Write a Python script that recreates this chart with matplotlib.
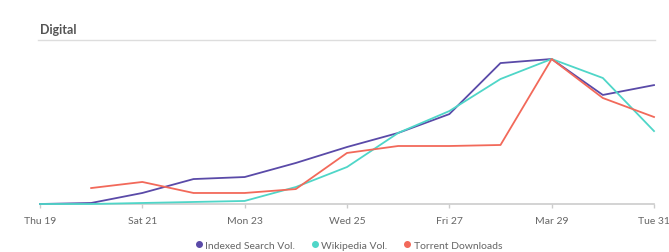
import matplotlib.pyplot as plt
import numpy as np

plt.rcParams['font.family'] = ['Lato', 'DejaVu Sans']

# Data (index, peak = 100)
days = ['Thu 19', 'Fri 20', 'Sat 21', 'Sun 22', 'Mon 23', 'Tue 24', 'Wed 25',
        'Thu 26', 'Fri 27', 'Sat 28', 'Mar 29', 'Mon 30', 'Tue 31']
tick_labels = ['Thu 19', 'Sat 21', 'Mon 23', 'Wed 25', 'Fri 27', 'Mar 29', 'Tue 31']
indexed = [0, 0.7, 7.6, 17.2, 18.6, 28.3, 39.3, 49, 62, 97.2, 100, 75.2, 82]
wikipedia = [0, 0, 0.7, 1.4, 2.1, 11.7, 25.5, 49, 64.1, 86.2, 100, 86.9, 50.3]
torrent = [np.nan, 11, 15.2, 7.6, 7.6, 10.3, 35.2, 40, 40, 40.7, 100, 73.1, 60]

x = np.arange(len(days))

fig = plt.figure(figsize=(6.69, 2.53), dpi=100)
W, H = 669, 253
ax = fig.add_axes([40 / W, 1 - 205 / H, 614 / W, 145 / H])

c_ind = '#5a4aa8'
c_wiki = '#4fd6c8'
c_tor = '#f2695a'
ax.plot(x, indexed, color=c_ind, lw=1.3, clip_on=False, zorder=3)
ax.plot(x, wikipedia, color=c_wiki, lw=1.3, clip_on=False, zorder=3)
ax.plot(x, torrent, color=c_tor, lw=1.3, clip_on=False, zorder=4)

ax.set_xlim(0, len(days) - 1)
ax.set_ylim(0, 100)
ax.set_yticks([])
ax.set_xticks(x[::2])
ax.set_xticklabels(tick_labels)
for s in ['top', 'right', 'left']:
    ax.spines[s].set_visible(False)
ax.spines['bottom'].set_color('#cccccc')
ax.spines['bottom'].set_linewidth(1.2)
ax.tick_params(axis='x', colors='#cccccc', length=3, width=1, labelsize=7.5,
               labelcolor='#666666', pad=6)

# Title and rule
fig.text(40 / W, 1 - 30 / H, 'Digital', fontsize=9, fontweight='bold',
         color='#555555', va='center', ha='left')
fig.add_artist(plt.Line2D([38 / W, 655 / W], [1 - 41 / H, 1 - 41 / H],
                          color='#dddddd', lw=1))

# Legend
handles = [plt.Line2D([], [], marker='o', ls='', color=c, markersize=4)
           for c in [c_ind, c_wiki, c_tor]]
fig.legend(handles, ['Indexed Search Vol.', 'Wikipedia Vol.', 'Torrent Downloads'],
           loc='center', bbox_to_anchor=(348 / W, 1 - 246 / H), ncol=3,
           frameon=False, fontsize=7.5, handletextpad=0.1, columnspacing=1.4,
           labelcolor='#666666', handlelength=1)

fig.savefig('out.png', dpi=100)
